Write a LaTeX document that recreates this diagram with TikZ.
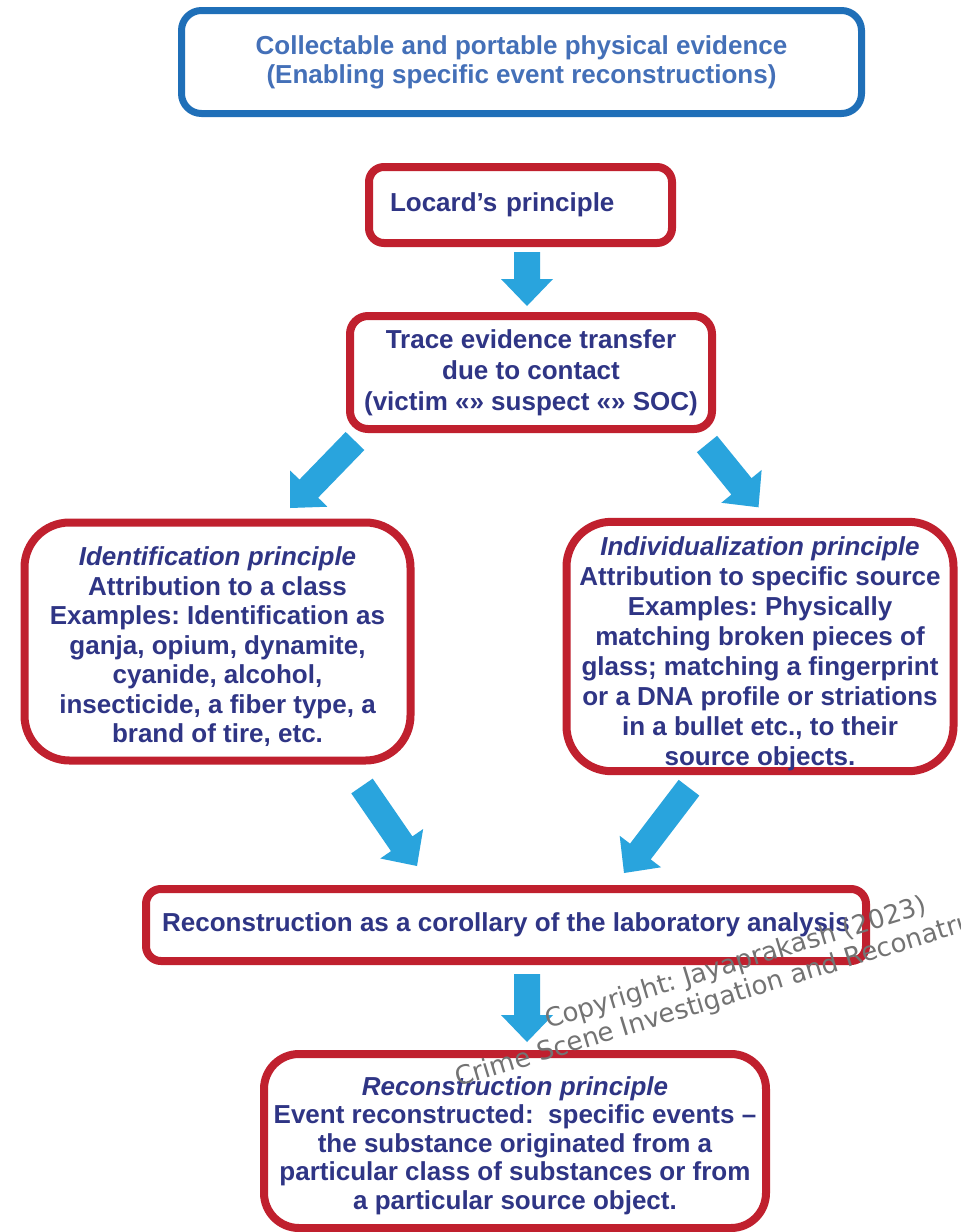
\documentclass[tikz,border=0pt]{standalone}
\usepackage{fontspec}
\setmainfont{Liberation Sans}
\newfontfamily\markfont{DejaVu Sans}
\usetikzlibrary{calc}
\frenchspacing

\definecolor{boxred}{RGB}{192,32,46}
\definecolor{boxblue}{RGB}{31,111,184}
\definecolor{topblue}{RGB}{68,112,184}
\definecolor{navy}{RGB}{47,53,133}
\definecolor{arrowblue}{RGB}{41,164,221}

\begin{document}
\begin{tikzpicture}[x=1pt, y=-1pt,
        redbox/.style={draw=boxred, line width=8pt, fill=white, text=navy, align=center,
            inner sep=0pt, font=\fontsize{26}{30}\selectfont\bfseries},
        wmark/.style={rotate=17, anchor=base west, text=black!55,
            font=\markfont\fontsize{26}{28}\selectfont}]
        \useasboundingbox (0,0) rectangle (961,1232);
        \fill[white] (0,0) rectangle (961,1232);

        \node[draw=boxblue, line width=7pt, rounded corners=20pt, fill=white, text=topblue,
            align=center, inner sep=0pt, minimum width=680pt, minimum height=103pt,
            font=\fontsize{26}{29}\selectfont\bfseries] (evidence) at (521.5,62)
            {Collectable and portable physical evidence\\(Enabling specific event reconstructions)};

        \node[redbox, rounded corners=15pt, minimum width=303pt, minimum height=76pt,
            text width=261pt, inner xsep=21pt, align=left] (locard) at (520.5,205)
            {Locard’s principle};

        \node[redbox, rounded corners=18pt, minimum width=362pt, minimum height=113pt,
            font=\fontsize{26}{31}\selectfont\bfseries] (trace) at (531,372.5)
            {Trace evidence transfer\\due to contact\\(victim «» suspect «» SOC)};

        \node[redbox, rounded corners=45pt, minimum width=386pt, minimum height=238pt,
            font=\fontsize{26}{29.5}\selectfont\bfseries] (ident) at (217.5,641.5)
            {\rule{0pt}{30pt}\textit{Identification principle}\\Attribution to a class\\Examples: Identification as\\
             ganja, opium, dynamite,\\cyanide, alcohol,\\insecticide, a fiber type, a\\brand of tire, etc.};

        \node[redbox, rounded corners=45pt, minimum width=387pt, minimum height=244pt]
            (indiv) at (760,646.5)
            {\rule{0pt}{34pt}\textit{Individualization principle}\\Attribution to specific source\\Examples: Physically\\
             matching broken pieces of\\glass; matching a fingerprint\\or a DNA profile or striations\\
             in a bullet etc., to their\\source objects.};

        \node[redbox, rounded corners=15pt, minimum width=720pt, minimum height=72pt] (coro) at (506,925)
            {Reconstruction as a corollary of the laboratory analysis};

        \node[redbox, rounded corners=35pt, minimum width=502pt, minimum height=174pt,
            font=\fontsize{26}{28.5}\selectfont\bfseries] (recon) at (515,1141)
            {\rule{0pt}{28pt}\textit{Reconstruction principle}\\Event reconstructed:\ \ specific events –\\
             the substance originated from a\\particular class of substances or from\\
             a particular source object.};

        % block arrow: shaft 26pt, head 52pt wide, 27pt long
        \def\blockarrow#1#2{
            \coordinate (h) at ($(#2)!27pt!(#1)$);
            \fill[arrowblue] ($(#1)!13pt!90:(#2)$) -- ($(h)!13pt!90:(#2)$) -- ($(h)!26pt!90:(#2)$)
                -- (#2) -- ($(h)!26pt!-90:(#2)$) -- ($(h)!13pt!-90:(#2)$) -- ($(#1)!13pt!-90:(#2)$) -- cycle;
        }

        \coordinate (a1_start) at ($(locard.south)+(6.5,5)$);
        \coordinate (a1_end) at ($(trace.north)+(-4,-6)$);
        \coordinate (a2_start) at ($(trace.south west)+(9,8)$);
        \coordinate (a2_end) at ($(ident.north)+(72.5,-10.5)$);
        \coordinate (a3_start) at ($(trace.south east)+(-9,11)$);
        \coordinate (a3_end) at ($(indiv.north)+(-1.5,-10.5)$);
        \coordinate (a4_start) at ($(ident.south)+(144.5,21.5)$);
        \coordinate (a4_end) at ($(coro.north)+(-89,-19)$);
        \coordinate (a5_start) at ($(indiv.south)+(-71,12.5)$);
        \coordinate (a5_end) at ($(coro.north)+(118,-12)$);
        \coordinate (a6_start) at ($(coro.south)+(21,9)$);
        \coordinate (a6_end) at ($(recon.north)+(12,-8)$);

        \blockarrow{a1_start}{a1_end}
        \blockarrow{a2_start}{a2_end}
        \blockarrow{a3_start}{a3_end}
        \blockarrow{a4_start}{a4_end}
        \blockarrow{a5_start}{a5_end}
        \blockarrow{a6_start}{a6_end}

        %\draw[step=50,gray,very thin] (0,0) grid (961,1232);

        \node[wmark] (mark1) at (545,1030) {Copyright: Jayaprakash (2023)};
        \node[wmark] (mark2) at (455,1088) {Crime Scene Investigation and Reconatru};
\end{tikzpicture}
\end{document}
